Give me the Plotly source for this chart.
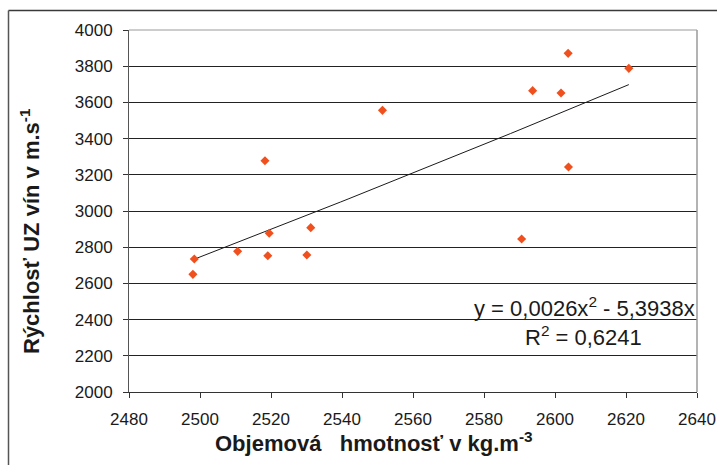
import numpy as np
import plotly.graph_objects as go

# Data
density = [2498.4, 2498.0, 2510.6, 2518.3, 2519.1, 2519.5, 2530.1, 2531.2,
           2551.4, 2590.6, 2593.7, 2601.7, 2603.7, 2603.8, 2620.8]
velocity = [2735, 2650, 2777, 3278, 2753, 2877, 2757, 2908,
            3556, 2845, 3665, 3652, 3871, 3243, 3788]

x_ticks = [2480, 2500, 2520, 2540, 2560, 2580, 2600, 2620, 2640]
y_ticks = [2000, 2200, 2400, 2600, 2800, 3000, 3200, 3400, 3600, 3800, 4000]

eq_text = "y = 0,0026x<sup>2</sup> - 5,3938x"
r2_text = "R<sup>2</sup> = 0,6241"
x_title = "Objemová   hmotnosť v kg.m<sup>-3</sup>"
y_title = "Rýchlosť UZ vín v m.s<sup>-1</sup>"

# Polynomial trend line (order 2, zero intercept) fitted to the data
xd = np.array(density, dtype=float)
yd = np.array(velocity, dtype=float)
A = np.column_stack([xd ** 2, xd])
coef, *_ = np.linalg.lstsq(A, yd, rcond=None)
xt = np.linspace(xd.min(), xd.max(), 60)
yt = coef[0] * xt ** 2 + coef[1] * xt

FONT = "Liberation Sans, Arial, sans-serif"

fig = go.Figure()
fig.add_trace(go.Scatter(x=xt, y=yt, mode="lines",
                         line=dict(color="#1a1a1a", width=1),
                         hoverinfo="skip", showlegend=False))
fig.add_trace(go.Scatter(x=density, y=velocity, mode="markers",
                         marker=dict(symbol="diamond", size=7, color="#F0501E",
                                     line=dict(width=0)),
                         showlegend=False))

W, H = 717, 465
L, T = 129, 30
R = W - 697
B = H - 392
pw = W - L - R
ph = H - T - B


def px(xp):  # screen pixel -> paper x
    return (xp - L) / pw


def py(yp):  # screen pixel -> paper y
    return (H - B - yp) / ph


fig.update_layout(
    width=W, height=H,
    margin=dict(l=L, r=R, t=T, b=B, pad=0),
    paper_bgcolor="white", plot_bgcolor="white",
    font=dict(family=FONT, color="#1a1a1a"),
    xaxis=dict(range=[2480, 2640], tickvals=x_ticks, ticktext=[str(v) for v in x_ticks],
               showgrid=False, zeroline=False, showline=True, linecolor="#333333",
               linewidth=1, ticks="outside", ticklen=5, tickcolor="#333333",
               tickfont=dict(size=17, family=FONT, color="#1a1a1a"),
               automargin=False, ticklabelstandoff=7),
    yaxis=dict(range=[2000, 4000], tickvals=y_ticks, ticktext=[str(v) for v in y_ticks],
               showgrid=True, gridcolor="#222222", gridwidth=1, zeroline=False,
               showline=True, linecolor="#555555", linewidth=1, ticks="outside",
               ticklen=5, tickcolor="#333333",
               tickfont=dict(size=17, family=FONT, color="#1a1a1a"),
               automargin=False, ticklabelstandoff=7),
    shapes=[
        # outer chart frame (continues past the right and bottom edges)
        dict(type="line", xref="paper", yref="paper", layer="above",
             x0=px(8.5), x1=px(717), y0=py(10.5), y1=py(10.5),
             line=dict(color="#3a3a3a", width=1.5)),
        dict(type="line", xref="paper", yref="paper", layer="above",
             x0=px(8.5), x1=px(8.5), y0=py(10.5), y1=py(465),
             line=dict(color="#555555", width=1.5)),
        # plot area border (top and right, gray)
        dict(type="line", xref="paper", yref="paper", x0=0, x1=1, y0=1, y1=1,
             line=dict(color="#9a9a9a", width=1)),
        dict(type="line", xref="paper", yref="paper", x0=1, x1=1, y0=0, y1=1,
             line=dict(color="#9a9a9a", width=1.5)),
    ],
    annotations=[
        dict(text=eq_text, xref="paper", yref="paper", x=px(697), y=py(307),
             xanchor="right", yanchor="middle", showarrow=False,
             font=dict(size=22, family=FONT, color="#1a1a1a")),
        dict(text=r2_text, xref="paper", yref="paper", x=px(583), y=py(336),
             xanchor="center", yanchor="middle", showarrow=False,
             font=dict(size=22, family=FONT, color="#1a1a1a")),
        dict(text="<b>" + x_title + "</b>", xref="paper", yref="paper",
             x=px(374), y=py(442), xanchor="center", yanchor="middle",
             showarrow=False, font=dict(size=22, family=FONT, color="#1a1a1a")),
        dict(text="<b>" + y_title + "</b>", xref="paper", yref="paper",
             x=px(30), y=py(231), xanchor="center", yanchor="middle",
             textangle=-90, showarrow=False,
             font=dict(size=22, family=FONT, color="#1a1a1a")),
    ],
)

fig.write_html(
    "out.html",
    config={"displayModeBar": False},
    post_script="document.body.style.margin='0';document.body.style.overflow='hidden';",
)
